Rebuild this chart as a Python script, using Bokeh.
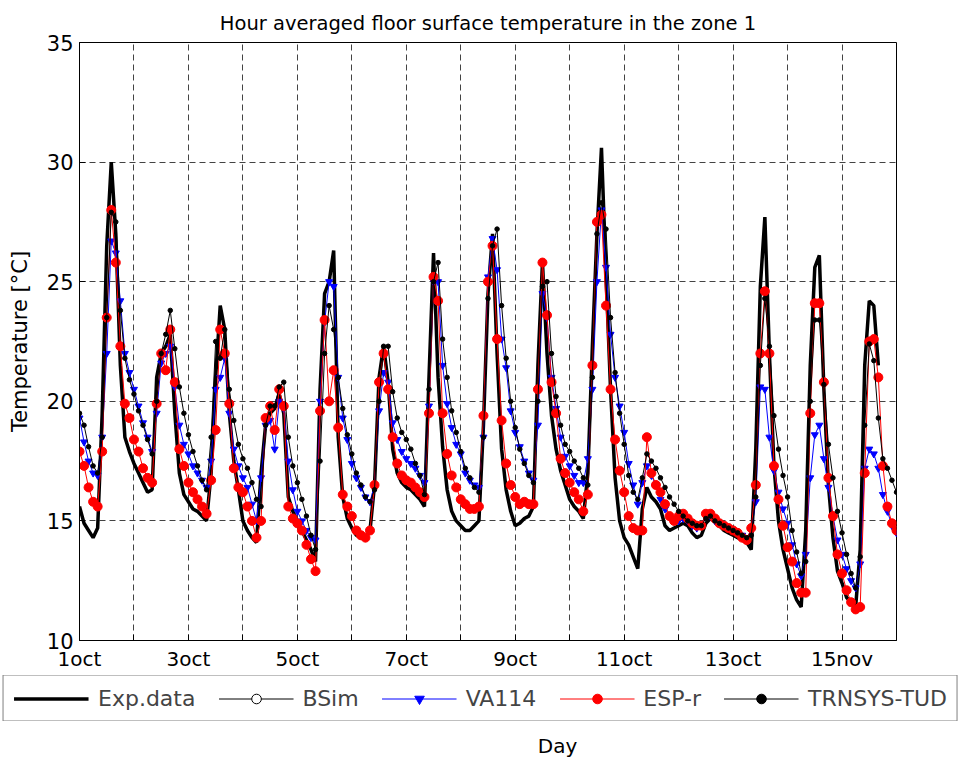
from bokeh.plotting import figure
from bokeh.layouts import column
from bokeh.models import (ColumnDataSource, Legend, LegendItem, FixedTicker, Range1d, Title)
from bokeh.embed import file_html
from bokeh.resources import INLINE

nan = float("nan")

# hours since 1 oct 00:00, every 2 hours
hours = list(range(0, 361, 2))

tick_days = [1, 3, 5, 7, 9, 11, 13, 15]
tick_labels = ["1oct", "3oct", "5oct", "7oct", "9oct", "11oct", "13oct", "15nov"]
y_ticks = [10, 15, 20, 25, 30, 35]

exp_data = [
    15.6, 14.9, 14.6, 14.3, 14.7, 19.5, 26.5, 30.0, 27.0, 21.5, 18.5, 17.9,
    17.4, 17.0, 16.6, 16.2, 16.3, 21.0, 22.0, 22.3, 22.8, 19.5, 17.0, 16.1,
    15.8, 15.5, 15.4, 15.2, 15.0, 17.0, 21.0, 24.0, 23.0, 19.5, 17.5, 16.3,
    15.0, 14.6, 14.3, 14.1, 17.0, 19.0, 19.5, 19.7, 20.3, 19.5, 16.0, 15.4,
    15.0, 14.6, 14.2, 13.8, 13.3, 20.5, 24.5, 25.0, 26.3, 18.5, 16.0, 15.1,
    14.7, 14.4, 14.3, 14.3, 14.6, 16.5, 21.0, 22.3, 20.8, 18.0, 17.0, 16.6,
    16.4, 16.3, 16.1, 15.9, 15.6, 21.0, 26.2, 21.0, 18.1, 16.3, 15.4, 15.0,
    14.8, 14.6, 14.6, 14.8, 15.0, 19.0, 24.5, 27.0, 22.0, 18.0, 16.3, 15.4,
    14.8, 14.9, 15.1, 15.2, 15.6, 21.5, 25.8, 22.0, 19.4, 18.0, 17.1, 16.5,
    15.9, 15.6, 15.4, 15.1, 17.0, 22.3, 27.0, 30.6, 25.3, 20.5, 16.8, 15.0,
    14.3, 14.0, 13.5, 13.0, 15.5, 16.4, 16.0, 15.8, 15.5, 14.8, 14.6, 14.7,
    14.8, 14.9, 14.8, 14.5, 14.3, 14.4, 14.9, 15.1, 15.0, 14.8, 14.6, 14.5,
    14.4, 14.3, 14.2, 14.1, 13.8, 18.0, 24.8, 27.7, 22.0, 17.3, 15.0, 13.8,
    13.0, 12.2, 11.7, 11.4, 14.6, 21.5, 25.6, 26.1, 20.5, 16.5, 14.3, 12.9,
    12.4, 11.8, 11.6, 11.4, 13.8, 21.5, 24.2, 24.0, 21.5, nan, nan, nan,
    nan,
]

va114 = [
    19.3, 18.3, 17.5, 17.0, 16.9, 18.5, 22.0, 26.7, 26.2, 24.2, 22.0, 21.2,
    20.5, 19.8, 19.1, 18.5, 17.9, 19.5, 21.6, 22.0, 22.3, 20.6, 19.0, 18.2,
    17.8, 17.3, 17.0, 16.7, 16.4, 17.5, 20.5, 21.0, 21.8, 19.5, 18.0, 17.3,
    16.8, 16.4, 15.7, 15.0, 16.8, 19.0, 19.2, 18.0, 20.0, 19.7, 17.5, 16.3,
    15.4, 15.0, 14.6, 14.3, 14.2, 20.0, 23.3, 25.0, 24.8, 21.0, 19.3, 18.4,
    17.4, 16.8, 16.4, 16.0, 15.8, 16.5, 19.6, 21.2, 20.8, 19.1, 18.4, 17.9,
    17.6, 17.4, 17.2, 16.9, 16.6, 19.8, 25.0, 25.0, 21.5, 19.9, 18.9, 18.2,
    17.8, 17.0, 16.7, 16.5, 16.4, 18.5, 25.2, 26.8, 25.5, 22.6, 21.4, 19.6,
    18.7, 18.1, 17.5, 17.0, 16.7, 19.0, 24.5, 23.5, 21.0, 19.7, 18.5, 17.7,
    17.3, 16.9, 16.6, 16.6, 17.6, 20.5, 25.0, 28.0, 25.6, 22.8, 21.0, 19.8,
    18.7, 17.4, 16.5, 15.7, 16.6, 17.3, 16.9, 16.5, 15.9, 15.5, 15.2, 15.0,
    15.0, 15.1, 15.0, 14.8, 14.7, 14.8, 15.2, 15.2, 15.0, 14.9, 14.8, 14.7,
    14.6, 14.5, 14.4, 14.3, 14.6, 15.8, 20.6, 20.5, 18.5, 17.1, 16.2, 15.5,
    14.9, 14.0, 13.2, 12.7, 13.6, 16.8, 18.6, 19.0, 17.6, 16.4, 15.2, 14.2,
    13.6, 13.0, 12.5, 12.2, 13.2, 17.2, 18.0, 17.8, 17.2, 16.1, 15.4, 14.8,
    14.5,
]

esp_r = [
    17.9, 17.3, 16.4, 15.8, 15.6, 17.9, 23.5, 28.0, 25.8, 22.3, 19.9, 19.3,
    18.4, 17.9, 17.2, 16.8, 16.6, 19.9, 22.0, 21.3, 23.0, 20.8, 18.0, 17.3,
    16.6, 16.2, 15.9, 15.6, 15.3, 16.7, 18.8, 23.0, 22.0, 19.9, 17.2, 16.4,
    16.2, 15.6, 15.0, 14.3, 15.0, 19.3, 19.8, 18.8, 20.5, 19.8, 15.6, 15.1,
    14.9, 14.6, 14.0, 13.4, 12.9, 19.6, 23.4, 20.0, 21.3, 18.9, 16.1, 15.6,
    15.2, 14.6, 14.4, 14.3, 14.6, 16.5, 20.8, 22.0, 20.5, 18.5, 17.4, 16.9,
    16.7, 16.6, 16.4, 16.2, 16.0, 19.5, 25.2, 24.2, 19.5, 17.8, 16.9, 16.4,
    15.9, 15.7, 15.5, 15.5, 15.6, 19.4, 25.0, 26.5, 22.6, 19.2, 17.4, 16.5,
    16.0, 15.7, 15.8, 15.7, 15.7, 20.5, 25.8, 23.6, 20.8, 19.5, 17.6, 17.0,
    16.6, 16.2, 15.9, 15.4, 16.1, 21.5, 27.5, 27.8, 24.0, 20.5, 18.4, 17.1,
    16.2, 15.2, 14.7, 14.6, 14.6, 18.5, 17.0, 16.5, 16.2, 15.7, 15.2, 15.0,
    15.2, 15.3, 15.1, 14.9, 14.8, 14.8, 15.3, 15.3, 15.1, 14.9, 14.8, 14.7,
    14.6, 14.5, 14.3, 14.2, 14.7, 16.5, 22.0, 24.6, 22.0, 17.3, 15.9, 14.8,
    13.9, 13.3, 12.4, 12.0, 12.0, 19.5, 24.1, 24.1, 20.8, 16.8, 15.2, 13.6,
    12.8, 12.1, 11.6, 11.3, 11.4, 17.0, 22.5, 22.6, 21.0, 17.3, 15.6, 14.9,
    14.6,
]

trnsys_tud = [
    19.5, 19.0, 18.1, 17.3, 17.0, 18.5, 23.5, 27.9, 27.5, 23.8, 21.8, 20.9,
    20.3, 19.6, 19.0, 18.4, 17.8, 20.0, 22.0, 22.8, 23.8, 22.2, 20.6, 19.5,
    18.6, 17.9, 17.3, 16.7, 16.3, 18.5, 22.5, 21.8, 23.0, 20.5, 19.2, 18.2,
    17.6, 17.2, 16.6, 15.9, 15.6, 19.0, 19.8, 19.8, 20.6, 20.8, 18.5, 17.3,
    16.6, 15.9, 15.2, 14.4, 13.8, 17.5, 22.0, 24.0, 23.0, 21.0, 19.7, 18.6,
    17.8, 17.0, 16.5, 16.0, 15.8, 16.3, 20.0, 22.3, 22.3, 20.4, 19.3, 18.7,
    18.4, 18.0, 17.4, 16.9, 16.1, 20.5, 25.0, 25.8, 22.6, 21.0, 19.6, 18.7,
    17.9, 17.2, 16.8, 16.4, 16.2, 18.5, 24.3, 26.5, 27.2, 24.0, 21.8, 20.0,
    18.9, 18.0, 17.4, 16.9, 16.6, 20.0, 24.8, 25.0, 22.0, 20.2, 19.0, 18.2,
    17.9, 17.5, 17.2, 16.8, 16.5, 21.0, 27.0, 28.3, 27.2, 23.5, 21.2, 19.5,
    18.2, 16.9, 16.2, 15.9, 16.8, 17.8, 17.5, 17.2, 16.8, 16.4, 16.0, 15.7,
    15.4, 15.2, 15.0, 14.9, 14.8, 14.8, 15.1, 15.2, 15.0, 14.9, 14.8, 14.7,
    14.6, 14.5, 14.4, 14.3, 14.4, 16.0, 21.5, 24.3, 22.3, 19.4, 18.0, 16.9,
    16.0, 14.6, 13.7, 12.8, 13.3, 20.0, 23.4, 23.4, 20.7, 18.2, 16.8, 15.4,
    14.5, 13.6, 12.8, 12.2, 13.5, 19.0, 22.4, 21.7, 19.3, 17.6, 17.2, 16.7,
    16.2,
]

# BSim: listed in the legend but no visible curve in the chart
bsim_x = [nan]
bsim = [nan]

FONT = "DejaVu Sans"

day_x = [1 + h / 24.0 for h in hours]
src = ColumnDataSource(dict(x=day_x, exp=exp_data, va=va114, esp=esp_r, trn=trnsys_tud))
src_bsim = ColumnDataSource(dict(x=bsim_x, y=bsim))

# ---------------- main plot ----------------
p = figure(frame_width=817, frame_height=598, x_range=Range1d(1, 16), y_range=Range1d(10, 35),
           output_backend="svg", toolbar_location=None, title=None,
           min_border_left=79, min_border_right=66, min_border_top=42,
           min_border_bottom=32)
p.background_fill_color = "white"
p.border_fill_color = "white"
p.outline_line_color = "black"
p.outline_line_width = 1

all_days = list(range(1, 17))
overrides = {d: "" for d in all_days}
for d, lab in zip(tick_days, tick_labels):
    overrides[d] = lab

xa = p.xaxis[0]
xa.ticker = FixedTicker(ticks=all_days)
xa.major_label_overrides = overrides
xa.major_tick_in = 6
xa.major_tick_out = 0
xa.minor_tick_in = 0
xa.minor_tick_out = 0
xa.major_label_standoff = 6
xa.major_label_text_font = FONT
xa.major_label_text_font_size = "20px"
xa.major_label_text_color = "black"
xa.axis_line_color = "black"

ya = p.yaxis[0]
ya.ticker = FixedTicker(ticks=y_ticks)
ya.major_tick_in = 6
ya.major_tick_out = 0
ya.minor_tick_in = 0
ya.minor_tick_out = 0
ya.major_label_standoff = 6
ya.major_label_text_font = FONT
ya.major_label_text_font_size = "21px"
ya.major_label_text_color = "black"
ya.axis_label = "Temperature [\u00b0C]"
ya.axis_label_text_font = FONT
ya.axis_label_text_font_size = "21px"
ya.axis_label_text_font_style = "normal"
ya.axis_label_text_color = "black"
ya.axis_label_standoff = 12
ya.axis_line_color = "black"

title = Title(text="Hour averaged floor surface temperature in the zone 1", align="center",
              text_font=FONT, text_font_size="19.5px", text_font_style="normal",
              text_color="black", standoff=16)
p.add_layout(title, "above")

for g in (p.xgrid[0], p.ygrid[0]):
    g.grid_line_color = "#222222"
    g.grid_line_dash = "6 4"
    g.grid_line_width = 1
    g.grid_line_alpha = 0.85
p.xgrid[0].ticker = FixedTicker(ticks=all_days)
p.ygrid[0].ticker = FixedTicker(ticks=y_ticks)


def add_series(fig):
    r_exp = fig.line("x", "exp", source=src, line_color="black", line_width=3.5)
    r_bs_l = fig.line("x", "y", source=src_bsim, line_color="black", line_width=1)
    r_bs_m = fig.scatter("x", "y", source=src_bsim, marker="circle", size=6,
                         fill_color="white", line_color="black")
    r_va_l = fig.line("x", "va", source=src, line_color="blue", line_width=1)
    r_va_m = fig.scatter("x", "va", source=src, marker="inverted_triangle", size=7,
                         fill_color="blue", line_color="blue")
    r_es_l = fig.line("x", "esp", source=src, line_color="red", line_width=1)
    r_es_m = fig.scatter("x", "esp", source=src, marker="circle", size=9,
                         fill_color="red", line_color="red")
    r_tr_l = fig.line("x", "trn", source=src, line_color="black", line_width=1)
    r_tr_m = fig.scatter("x", "trn", source=src, marker="circle", size=4.5,
                         fill_color="black", line_color="black")
    return [("Exp.data", [r_exp]), ("BSim", [r_bs_l, r_bs_m]), ("VA114", [r_va_l, r_va_m]),
            ("ESP-r", [r_es_l, r_es_m]), ("TRNSYS-TUD", [r_tr_l, r_tr_m])]


add_series(p)

# ---------------- legend strip + "Day" label ----------------
q = figure(frame_width=956, frame_height=46, x_range=Range1d(100, 101), y_range=Range1d(100, 101),
           output_backend="svg", toolbar_location=None, title=None,
           min_border_left=4, min_border_right=1, min_border_top=2, min_border_bottom=38)
q.outline_line_color = None
q.background_fill_color = "white"
q.border_fill_color = "white"
q.xgrid.visible = False
q.ygrid.visible = False
q.yaxis.visible = False
qa = q.xaxis[0]
qa.ticker = FixedTicker(ticks=[])
qa.axis_line_color = None
qa.major_tick_line_color = None
qa.minor_tick_line_color = None
qa.axis_label = "Day"
qa.axis_label_text_font = FONT
qa.axis_label_text_font_size = "20px"
qa.axis_label_text_font_style = "normal"
qa.axis_label_text_color = "black"
qa.axis_label_standoff = 12

legend_items = [LegendItem(label=lab, renderers=rs) for lab, rs in add_series(q)]
legend = Legend(items=legend_items, orientation="horizontal", location="center")
legend.border_line_color = "black"
legend.border_line_width = 1
legend.background_fill_color = "white"
legend.background_fill_alpha = 1.0
legend.label_text_font = FONT
legend.label_text_font_size = "22px"
legend.glyph_width = 75
legend.glyph_height = 24
legend.label_height = 24
legend.spacing = 23
legend.label_standoff = 9
legend.padding = 10
legend.margin = 0
q.add_layout(legend, "center")

layout = column(p, q, spacing=0)
open("out.html", "w").write(file_html(layout, INLINE))
